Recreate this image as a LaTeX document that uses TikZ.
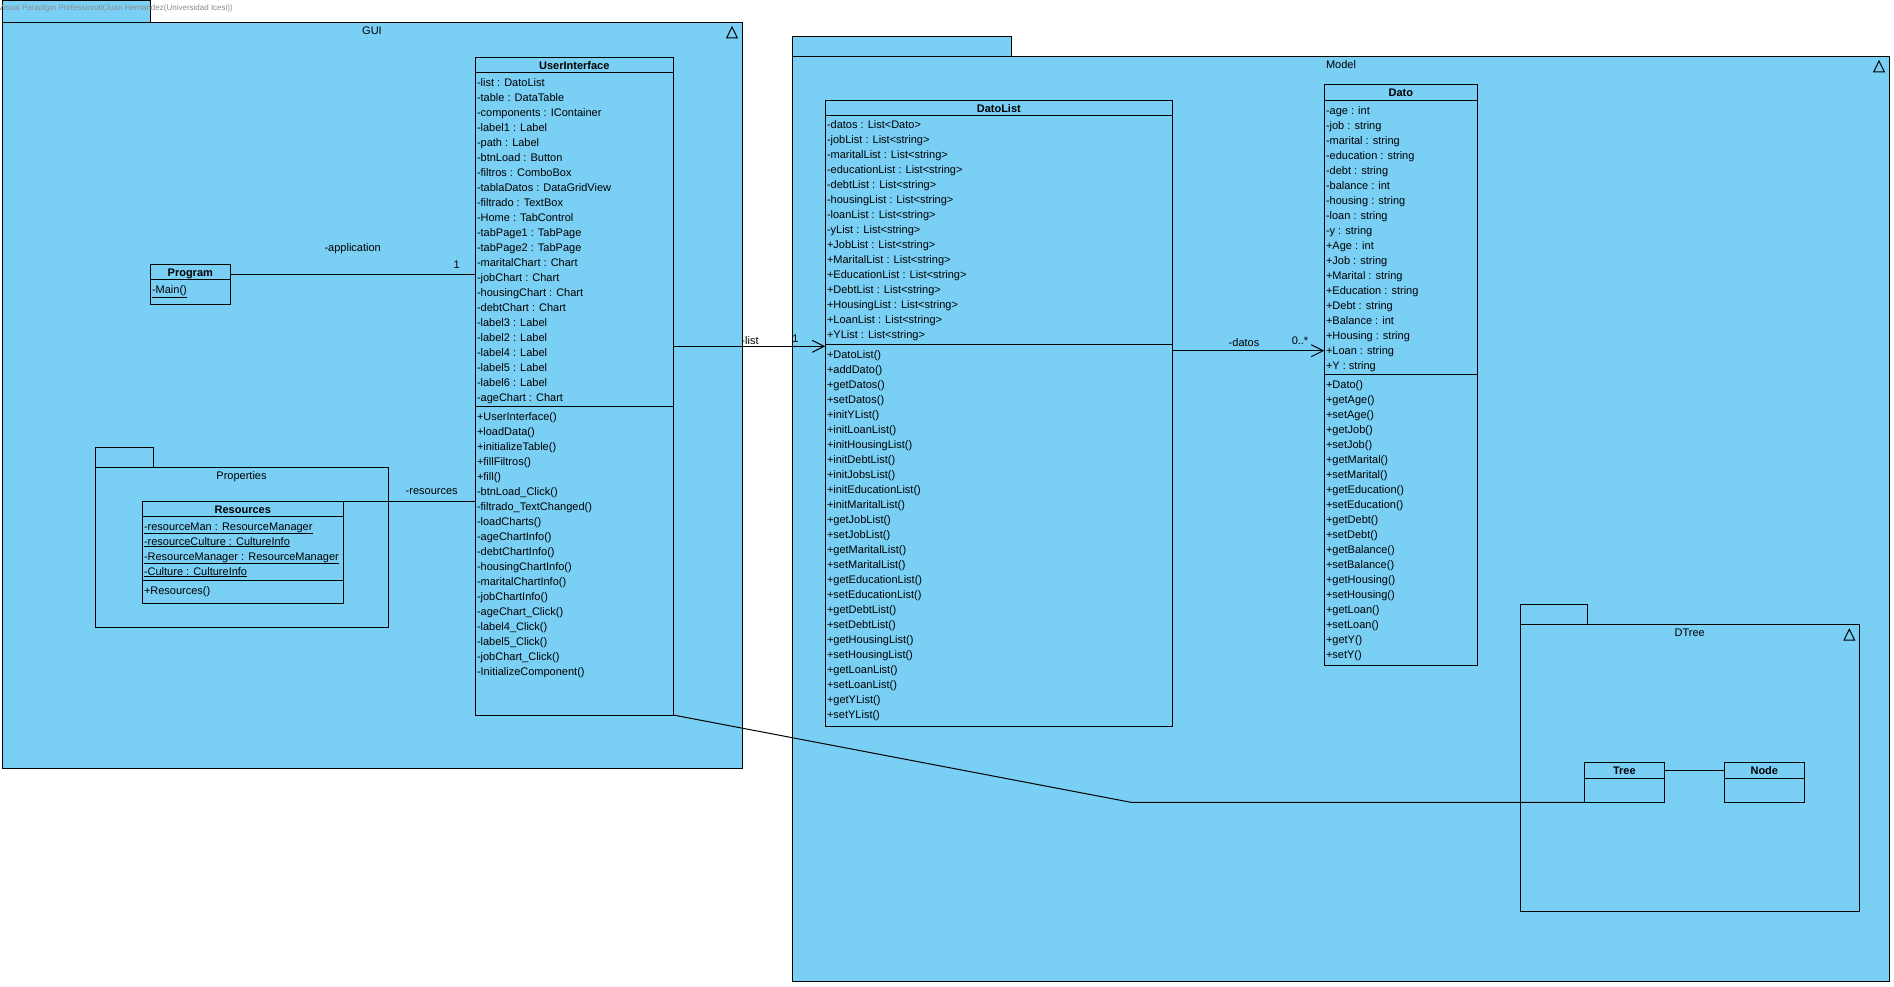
\documentclass[tikz,border=0pt]{standalone}
\usepackage{fontspec}
\setmainfont{Liberation Sans}
\usetikzlibrary{arrows.meta}
\definecolor{pkgblue}{RGB}{122,207,245}
\definecolor{wmgray}{RGB}{140,140,140}

\tikzset{
  pkg/.style={draw, fill=pkgblue, line width=1pt, anchor=north west, inner sep=0pt, outer sep=0pt},
  cls/.style={draw, fill=pkgblue, line width=1pt, anchor=north west, inner sep=0pt, outer sep=0pt},
  member/.style={anchor=base west, inner sep=0pt, font=\fontsize{11}{13}\selectfont},
  ctitle/.style={anchor=base, inner sep=0pt, font=\fontsize{11}{13}\selectfont\bfseries},
  plabel/.style={anchor=base, inner sep=0pt, font=\fontsize{11}{13}\selectfont},
  elabel/.style={anchor=base, inner sep=0pt, font=\fontsize{11}{13}\selectfont},
  assoc/.style={line width=1pt},
  nav/.style={assoc, -{Straight Barb[length=12pt,width=12pt]}},
  pkgtri/.style={line width=1pt, line join=miter},
  sepline/.style={line width=1pt},
}

% one row of text per member, 15pt apart, first baseline at #3
\newcommand\memberlist[4]{%
  \foreach \mb [count=\k from 0] in {#4} {
    \node[member] (#1-\k) at (#2, #3+15*\k) {\mb};
  }%
}

\begin{document}
\begin{tikzpicture}[x=1pt, y=-1pt]
\fill[white] (0,0) rectangle (1894,986);
\useasboundingbox (0,0) rectangle (1894,986);

% ---------- packages ----------
\node[pkg, minimum width=148pt, minimum height=22pt] (gui-tab) at (2,0) {};
\node[pkg, minimum width=740pt, minimum height=746pt] (gui) at (2,22) {};
\node[plabel] (gui-name) at (372,34.5) {GUI};
\draw[pkgtri] ([xshift=-10pt,yshift=-5pt]gui.north east) -- ++(5.3,10.8) -- ++(-10.6,0) -- cycle;

\node[pkg, minimum width=218.5pt, minimum height=19.8pt] (model-tab) at (792.5,36.2) {};
\node[pkg, minimum width=1096.5pt, minimum height=925pt] (model) at (792.5,56) {};
\node[plabel] (model-name) at (1341,68) {Model};
\draw[pkgtri] ([xshift=-10pt,yshift=-5pt]model.north east) -- ++(5.3,10.8) -- ++(-10.6,0) -- cycle;

\node[pkg, minimum width=58pt, minimum height=20pt] (props-tab) at (95.3,447.3) {};
\node[pkg, minimum width=293pt, minimum height=160pt] (props) at (95.3,467.3) {};
\node[plabel] (props-name) at (241.5,479.3) {Properties};

\node[pkg, minimum width=67pt, minimum height=20pt] (dtree-tab) at (1520.3,604.3) {};
\node[pkg, minimum width=339pt, minimum height=287pt] (dtree) at (1520.3,624.3) {};
\node[plabel] (dtree-name) at (1689.7,636.3) {DTree};
\draw[pkgtri] ([xshift=-10pt,yshift=-5pt]dtree.north east) -- ++(5.3,10.8) -- ++(-10.6,0) -- cycle;

\node[anchor=base west, inner sep=0pt, font=\fontsize{8}{9}\selectfont, text=wmgray] (wm) at (-2,10.3)
  {Visual Paradigm Professional(Juan Hernandez(Universidad Icesi))};

% ---------- UserInterface ----------
\node[cls, minimum width=198pt, minimum height=657.7pt] (ui) at (475.3,57.3) {};
\node[ctitle] (ui-t) at (ui.north |- 0,69) {UserInterface};
\draw[sepline] (ui.west |- 0,72.3) -- (ui.east |- 0,72.3);
\draw[sepline] (ui.west |- 0,406) -- (ui.east |- 0,406);
\memberlist{uia}{476.8}{86.3}{-list : DatoList, -table : DataTable, -components : IContainer,
  -label1 : Label, -path : Label, -btnLoad : Button, -filtros : ComboBox,
  -tablaDatos : DataGridView, -filtrado : TextBox, -Home : TabControl,
  -tabPage1 : TabPage, -tabPage2 : TabPage, -maritalChart : Chart, -jobChart : Chart,
  -housingChart : Chart, -debtChart : Chart, -label3 : Label, -label2 : Label,
  -label4 : Label, -label5 : Label, -label6 : Label, -ageChart : Chart}
\memberlist{uim}{476.8}{420}{+UserInterface(), +loadData(), +initializeTable(), +fillFiltros(),
  +fill(), -btnLoad\_Click(), -filtrado\_TextChanged(), -loadCharts(), -ageChartInfo(),
  -debtChartInfo(), -housingChartInfo(), -maritalChartInfo(), -jobChartInfo(),
  -ageChart\_Click(), -label4\_Click(), -label5\_Click(), -jobChart\_Click(),
  -InitializeComponent()}

% ---------- Program ----------
\node[cls, minimum width=80pt, minimum height=40pt] (prog) at (150.3,264.3) {};
\node[ctitle] (prog-t) at (prog.north |- 0,276.3) {Program};
\draw[sepline] (prog.west |- 0,279.7) -- (prog.east |- 0,279.7);
\memberlist{progm}{151.8}{293.7}{\underline{-Main()}}

% ---------- Resources ----------
\node[cls, minimum width=201pt, minimum height=101.6pt] (res) at (142.3,501.7) {};
\node[ctitle] (res-t) at (res.north |- 0,513) {Resources};
\draw[sepline] (res.west |- 0,516.3) -- (res.east |- 0,516.3);
\draw[sepline] (res.west |- 0,580.3) -- (res.east |- 0,580.3);
\memberlist{resa}{143.8}{530}{\underline{-resourceMan : ResourceManager},
  \underline{-resourceCulture : CultureInfo}, \underline{-ResourceManager : ResourceManager},
  \underline{-Culture : CultureInfo}}
\memberlist{resm}{143.8}{594}{+Resources()}

% ---------- DatoList ----------
\node[cls, minimum width=347pt, minimum height=626.4pt] (dl) at (825.3,100.3) {};
\node[ctitle] (dl-t) at (dl.north |- 0,112) {DatoList};
\draw[sepline] (dl.west |- 0,115.3) -- (dl.east |- 0,115.3);
\draw[sepline] (dl.west |- 0,344.3) -- (dl.east |- 0,344.3);
\memberlist{dla}{826.8}{128.7}{-datos : List<Dato>, -jobList : List<string>,
  -maritalList : List<string>, -educationList : List<string>, -debtList : List<string>,
  -housingList : List<string>, -loanList : List<string>, -yList : List<string>,
  +JobList : List<string>, +MaritalList : List<string>, +EducationList : List<string>,
  +DebtList : List<string>, +HousingList : List<string>, +LoanList : List<string>,
  +YList : List<string>}
\memberlist{dlm}{826.8}{358.3}{+DatoList(), +addDato(), +getDatos(), +setDatos(), +initYList(),
  +initLoanList(), +initHousingList(), +initDebtList(), +initJobsList(),
  +initEducationList(), +initMaritalList(), +getJobList(), +setJobList(),
  +getMaritalList(), +setMaritalList(), +getEducationList(), +setEducationList(),
  +getDebtList(), +setDebtList(), +getHousingList(), +setHousingList(),
  +getLoanList(), +setLoanList(), +getYList(), +setYList()}

% ---------- Dato ----------
\node[cls, minimum width=153pt, minimum height=580.7pt] (dato) at (1324.3,84.3) {};
\node[ctitle] (dato-t) at (dato.north |- 0,96) {Dato};
\draw[sepline] (dato.west |- 0,100.3) -- (dato.east |- 0,100.3);
\draw[sepline] (dato.west |- 0,374.3) -- (dato.east |- 0,374.3);
\memberlist{datoa}{1325.8}{114}{-age : int, -job : string, -marital : string,
  -education : string, -debt : string, -balance : int, -housing : string,
  -loan : string, -y : string, +Age : int, +Job : string, +Marital : string,
  +Education : string, +Debt : string, +Balance : int, +Housing : string,
  +Loan : string, +Y : string}
\memberlist{datom}{1325.8}{388.3}{+Dato(), +getAge(), +setAge(), +getJob(), +setJob(),
  +getMarital(), +setMarital(), +getEducation(), +setEducation(), +getDebt(),
  +setDebt(), +getBalance(), +setBalance(), +getHousing(), +setHousing(),
  +getLoan(), +setLoan(), +getY(), +setY()}

% ---------- Tree / Node ----------
\node[cls, minimum width=80pt, minimum height=40pt] (tree) at (1584.3,762.3) {};
\node[ctitle] (tree-t) at (tree.north |- 0,774.3) {Tree};
\draw[sepline] (tree.west |- 0,778.3) -- (tree.east |- 0,778.3);
\node[cls, minimum width=80pt, minimum height=40pt] (nodec) at (1724.3,762.3) {};
\node[ctitle] (nodec-t) at (nodec.north |- 0,774.3) {Node};
\draw[sepline] (nodec.west |- 0,778.3) -- (nodec.east |- 0,778.3);

% ---------- connectors ----------
\coordinate (appY) at (0,274.3);
\draw[assoc] (prog.east |- appY) -- (ui.west |- appY);
\node[elabel] (app-l) at (352.7,251.3) {-application};
\node[elabel] (app-m) at (456.7,268) {1};

\draw[assoc] (res.north east) -- (res.north east -| ui.west);
\node[elabel] (res-l) at (431.7,494.3) {-resources};

\coordinate (listY) at (0,346.3);
\draw[nav] (ui.east |- listY) -- (dl.west |- listY);
\node[elabel] (list-l) at (750,344) {-list};
\node[elabel] (list-m) at (795.3,342) {1};

\coordinate (datosY) at (0,350.7);
\draw[nav] (dl.east |- datosY) -- (dato.west |- datosY);
\node[elabel] (datos-l) at (1244,346.3) {-datos};
\node[elabel] (datos-m) at (1300,344) {0..*};

\coordinate (treeBend) at (1131,802.3);
\draw[assoc] (ui.south east) -- (treeBend) -- (tree.south west);

\draw[assoc] ([yshift=-8pt]tree.north east) -- ([yshift=-8pt]nodec.north west);
\end{tikzpicture}
\end{document}
